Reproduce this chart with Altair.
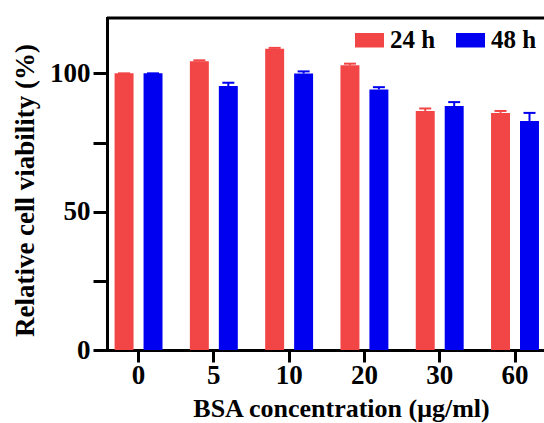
import altair as alt
import pandas as pd

# ---- data ----
concentrations = ["0", "5", "10", "20", "30", "60"]
series = ["24 h", "48 h"]
viability_24h = [100, 104.4, 108.9, 102.9, 86.4, 85.7]
error_24h = [0, 0.3, 0.3, 0.6, 0.9, 0.7]
viability_48h = [100, 95.4, 99.9, 94.2, 88.2, 82.8]
error_48h = [0, 1.2, 0.8, 0.8, 1.4, 2.9]
y_major = [0, 50, 100]
y_minor = [25, 75]
y_max = [120]

colors = ["#F24545", "#0000F0"]
FONT = "Liberation Serif, Times New Roman, serif"

rows = []
for i, c in enumerate(concentrations):
    rows.append({"conc": c, "time": series[0], "v": viability_24h[i], "err": error_24h[i]})
    rows.append({"conc": c, "time": series[1], "v": viability_48h[i], "err": error_48h[i]})
df = pd.DataFrame(rows)
df["top"] = df["v"] + df["err"]

x_scale = alt.Scale(paddingInner=0.23, paddingOuter=0.017, align=1)
xo_scale = alt.Scale(paddingInner=0.345, paddingOuter=0.1735)
y_scale = alt.Scale(domain=[0, y_max[0]], nice=False, zero=True)

x_axis = alt.Axis(
    title="BSA concentration (μg/ml)",
    labelAngle=0,
    domainColor="black", domainWidth=3,
    tickColor="black", tickWidth=3, tickSize=12,
    labelFont=FONT, labelFontSize=27, labelFontWeight="bold", labelColor="black",
    labelPadding=0,
    titleFont=FONT, titleFontSize=26, titleFontWeight="bold", titleColor="black",
    titleX=234, titleY=66, titleBaseline="alphabetic",
    grid=False,
)
y_axis = alt.Axis(
    title="Relative cell viability (%)",
    values=sorted(y_major + y_minor),
    labelExpr="datum.value % 50 == 0 ? datum.label : ''",
    domainColor="black", domainWidth=3, domainCap="square",
    tickColor="black", tickWidth=3, tickSize=14,
    labelFont=FONT, labelFontSize=27, labelFontWeight="bold", labelColor="black",
    labelPadding=3, labelFlush=False,
    titleFont=FONT, titleFontSize=27, titleFontWeight="bold", titleColor="black",
    titleX=-74, titleY=172, titleBaseline="alphabetic", titleAngle=270,
    grid=False,
)

X = alt.X("conc:N", sort=concentrations, scale=x_scale, axis=x_axis)
XO = alt.XOffset("time:N", sort=series, scale=xo_scale)

legend = alt.Legend(
    orient="none", legendX=248, legendY=7.5, direction="horizontal", title=None,
    symbolType="M-1,-0.5H1V0.5H-1Z", symbolSize=841, symbolStrokeWidth=0,
    symbolOpacity=1,
    labelFont=FONT, labelFontSize=25, labelFontWeight="bold", labelColor="black",
    labelOffset=6, columnPadding=20, padding=0,
)
color_scale = alt.Scale(domain=series, range=colors)

bars = alt.Chart(df).mark_bar(opacity=1).encode(
    x=X, xOffset=XO,
    y=alt.Y("v:Q", scale=y_scale, axis=y_axis),
    color=alt.Color("time:N", scale=color_scale, legend=legend),
)

err = alt.Chart(df).mark_rule(strokeWidth=2).encode(
    x=X, xOffset=XO,
    y=alt.Y("v:Q", scale=y_scale, axis=y_axis),
    y2="top:Q",
    color=alt.Color("time:N", scale=color_scale, legend=None),
)

caps = alt.Chart(df).mark_tick(size=12, thickness=2, opacity=1).encode(
    x=X, xOffset=XO,
    y=alt.Y("top:Q", scale=y_scale, axis=y_axis),
    color=alt.Color("time:N", scale=color_scale, legend=None),
)

frame = alt.Chart(pd.DataFrame({"ymax": y_max})).mark_rule(
    strokeWidth=3, color="black"
).encode(y=alt.Y("ymax:Q", scale=y_scale, axis=y_axis))

chart = alt.layer(bars, err, caps, frame).properties(
    width=437, height=332,
    autosize="none",
    padding={"left": 107, "top": 18, "right": 0, "bottom": 73},
    background="white",
).configure_view(stroke=None)

chart.save("out.html", embed_options={"renderer": "svg", "actions": False})
